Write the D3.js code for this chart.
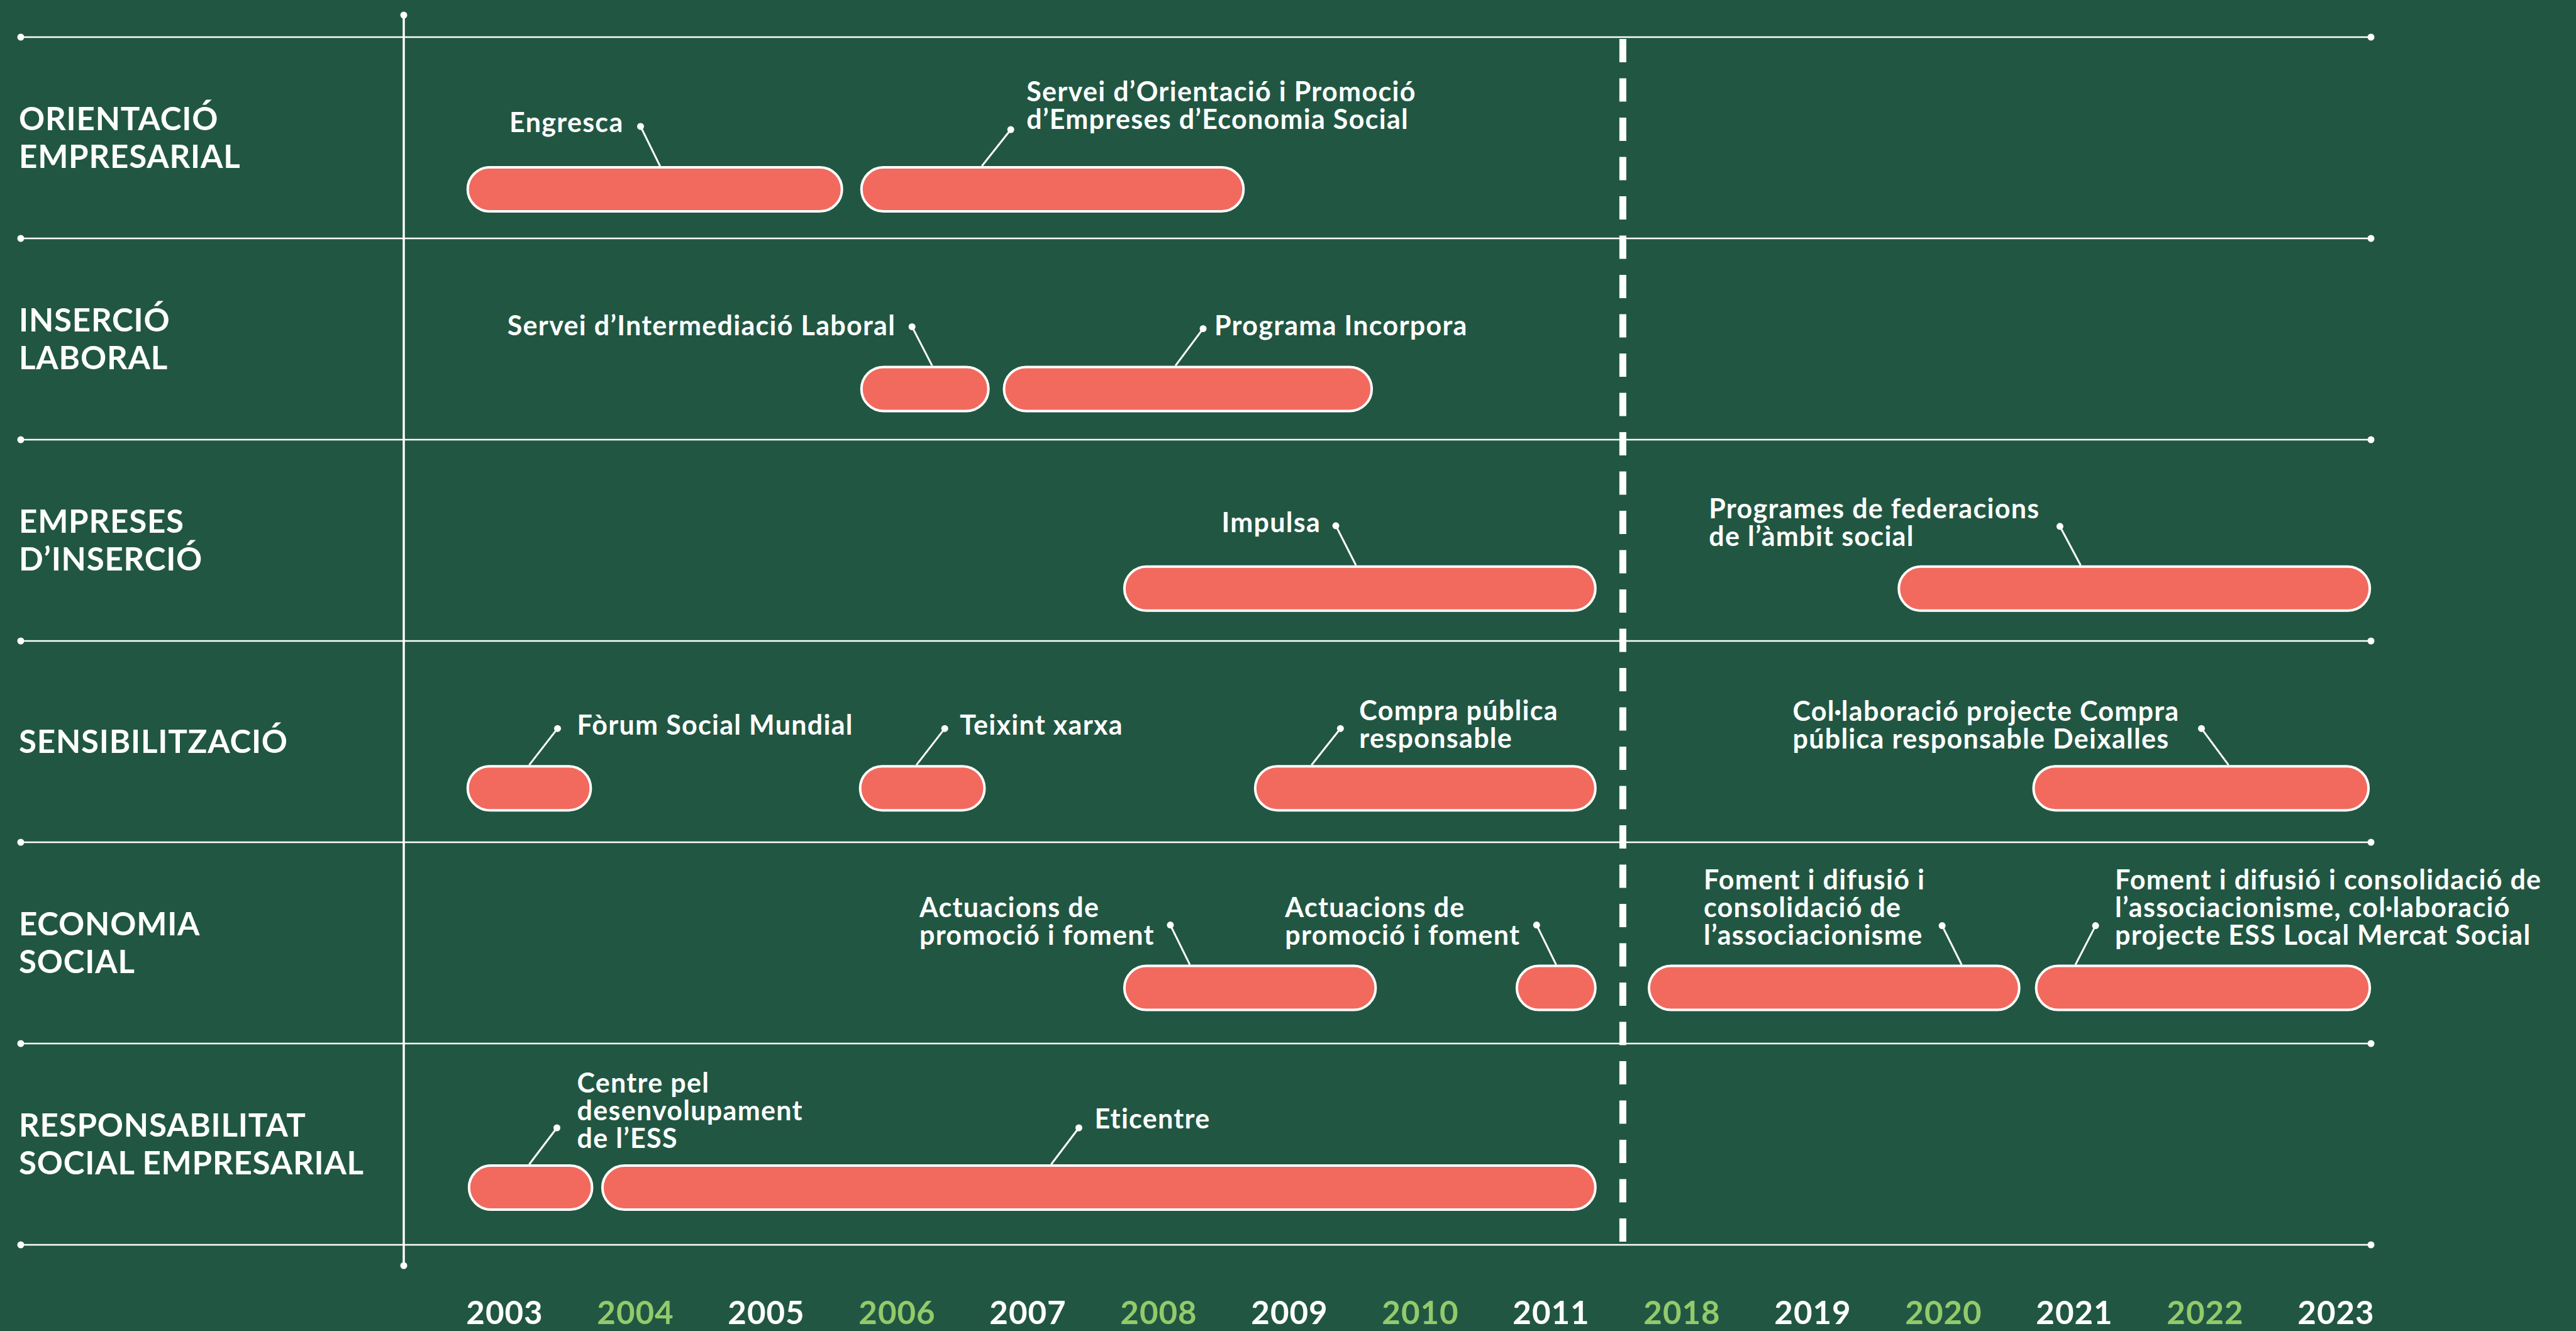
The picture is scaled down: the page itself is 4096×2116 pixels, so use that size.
<!DOCTYPE html>
<html>
<head>
<meta charset="utf-8">
<script src="https://cdn.jsdelivr.net/npm/d3@7"></script>
<style>
  body { margin: 0; background: #215742; }
  svg { display: block; }
</style>
</head>
<body>
<div id="chart"></div>
<script>
// Timeline slots (the axis jumps from 2011 to 2018)
var years = ['2003', '2004', '2005', '2006', '2007', '2008', '2009', '2010', '2011',
  '2018', '2019', '2020', '2021', '2022', '2023']

// Row labels
var areas = [
  ['ORIENTACIÓ', 'EMPRESARIAL'],
  ['INSERCIÓ', 'LABORAL'],
  ['EMPRESES', 'D’INSERCIÓ'],
  ['SENSIBILITZACIÓ'],
  ['ECONOMIA', 'SOCIAL'],
  ['RESPONSABILITAT', 'SOCIAL EMPRESARIAL']
]

// Programmes: row, label lines, start / end measured in year slots
var programmeArea = [0, 0, 1, 1, 2, 2, 3, 3, 3, 3, 4, 4, 4, 4, 5, 5]
var programmeStart = [-0.29, 2.72, 2.72, 3.81, 4.73, 10.65, -0.29, 2.71, 5.73, 11.68,
  4.73, 7.73, 8.74, 11.70, -0.28, 0.74]
var programmeEnd = [2.59, 5.66, 3.71, 6.64, 8.35, 14.27, 0.67, 3.68, 8.35, 14.26,
  6.67, 8.35, 11.59, 14.27, 0.68, 8.35]
var programmeLabel = [
  ['Engresca'],
  ['Servei d’Orientació i Promoció', 'd’Empreses d’Economia Social'],
  ['Servei d’Intermediació Laboral'],
  ['Programa Incorpora'],
  ['Impulsa'],
  ['Programes de federacions', 'de l’àmbit social'],
  ['Fòrum Social Mundial'],
  ['Teixint xarxa'],
  ['Compra pública', 'responsable'],
  ['Col·laboració projecte Compra', 'pública responsable Deixalles'],
  ['Actuacions de', 'promoció i foment'],
  ['Actuacions de', 'promoció i foment'],
  ['Foment i difusió i', 'consolidació de', 'l’associacionisme'],
  ['Foment i difusió i consolidació de', 'l’associacionisme, col·laboració', 'projecte ESS Local Mercat Social'],
  ['Centre pel', 'desenvolupament', 'de l’ESS'],
  ['Eticentre']
]

// Callout layout: where the leader leaves the bar (slot units), dot offset, text side
var callouts = [
  { at: 1.19, dx: -31, dy: -63, side: 'L', gap: 27, by: 9 },
  { at: 3.65, dx: 46, dy: -58, side: 'R', gap: 25, by: -45 },
  { at: 3.27, dx: -32, dy: -62, side: 'L', gap: 26, by: 14 },
  { at: 5.13, dx: 44, dy: -59, side: 'R', gap: 18, by: 11 },
  { at: 6.51, dx: -32, dy: -63, side: 'L', gap: 24, by: 10 },
  { at: 12.05, dx: -33, dy: -62, side: 'L', gap: 32, by: -13 },
  { at: 0.19, dx: 45, dy: -58, side: 'R', gap: 31, by: 10 },
  { at: 3.15, dx: 45, dy: -58, side: 'R', gap: 24, by: 10 },
  { at: 6.17, dx: 46, dy: -58, side: 'R', gap: 30, by: -13 },
  { at: 13.18, dx: -43, dy: -58, side: 'L', gap: 35, by: -12 },
  { at: 5.24, dx: -31, dy: -63, side: 'L', gap: 25, by: -13 },
  { at: 8.04, dx: -31, dy: -63, side: 'L', gap: 26, by: -13 },
  { at: 11.14, dx: -31, dy: -62, side: 'L', gap: 27, by: -58 },
  { at: 12.01, dx: 32, dy: -62, side: 'R', gap: 31, by: -58 },
  { at: 0.19, dx: 44, dy: -58, side: 'R', gap: 32, by: -56 },
  { at: 4.18, dx: 44, dy: -58, side: 'R', gap: 25, by: 1 }
]

var width = 4096
var height = 2116
var bg = '#215742'
var salmon = '#F26A5E'
var lightGreen = '#93CA6B'
var font = 'Lato, "Open Sans", sans-serif'

var svg = d3
  .select('#chart')
  .append('svg')
  .attr('width', width)
  .attr('height', height)

svg
  .append('rect')
  .attr('width', width)
  .attr('height', height)
  .attr('fill', bg)

// Scales
var xPositionScale = d3
  .scaleLinear()
  .domain([0, years.length - 1])
  .range([802, 3714])

var rowLineScale = d3
  .scaleLinear()
  .domain([0, areas.length])
  .range([59, 1979])

var barYScale = d3
  .scaleLinear()
  .domain([0, areas.length - 1])
  .range([301, 1888])

var barHeight = 70
var lineLeft = 33
var lineRight = 3770
var dotR = 5.5

// Horizontal row rules with end dots
d3.range(areas.length + 1).forEach(function(i) {
  var y = rowLineScale(i)
  svg
    .append('line')
    .attr('x1', lineLeft)
    .attr('x2', lineRight)
    .attr('y1', y)
    .attr('y2', y)
    .attr('stroke', 'white')
    .attr('stroke-width', 2.5)
  svg.append('circle').attr('cx', lineLeft).attr('cy', y).attr('r', dotR).attr('fill', 'white')
  svg.append('circle').attr('cx', lineRight).attr('cy', y).attr('r', dotR).attr('fill', 'white')
})

// Vertical separator between labels and timeline
var sepX = 642
svg
  .append('line')
  .attr('x1', sepX)
  .attr('x2', sepX)
  .attr('y1', 24)
  .attr('y2', 2012)
  .attr('stroke', 'white')
  .attr('stroke-width', 3.5)
svg.append('circle').attr('cx', sepX).attr('cy', 24).attr('r', dotR).attr('fill', 'white')
svg.append('circle').attr('cx', sepX).attr('cy', 2012).attr('r', dotR).attr('fill', 'white')

// Dashed break between 2011 and 2018
var breakX = xPositionScale(8.55)
svg
  .append('line')
  .attr('x1', breakX)
  .attr('x2', breakX)
  .attr('y1', 62)
  .attr('y2', 1980)
  .attr('stroke', 'white')
  .attr('stroke-width', 11)
  .attr('stroke-dasharray', '37 25.5')

// Row labels
areas.forEach(function(lines, i) {
  var mid = (rowLineScale(i) + rowLineScale(i + 1)) / 2
  var first = mid + 18 - ((lines.length - 1) * 60) / 2
  var t = svg
    .append('text')
    .attr('x', 30)
    .attr('y', first)
    .attr('fill', 'white')
    .attr('font-family', font)
    .attr('font-weight', 700)
    .attr('font-size', 51)
    .attr('letter-spacing', 0.8)
  lines.forEach(function(line, j) {
    t.append('tspan').attr('x', 30).attr('y', first + j * 60).text(line)
  })
})

// Bars
programmeArea.forEach(function(area, i) {
  var x0 = xPositionScale(programmeStart[i])
  var x1 = xPositionScale(programmeEnd[i])
  svg
    .append('rect')
    .attr('x', x0 + 2)
    .attr('y', barYScale(area) - barHeight / 2)
    .attr('width', x1 - x0 - 4)
    .attr('height', barHeight)
    .attr('rx', barHeight / 2)
    .attr('fill', salmon)
    .attr('stroke', 'white')
    .attr('stroke-width', 4)
})

// Callouts
callouts.forEach(function(c, i) {
  var ax = xPositionScale(c.at)
  var ay = barYScale(programmeArea[i]) - barHeight / 2 - 2
  var px = ax + c.dx
  var py = ay + c.dy

  svg
    .append('line')
    .attr('x1', ax)
    .attr('y1', ay)
    .attr('x2', px)
    .attr('y2', py)
    .attr('stroke', 'white')
    .attr('stroke-width', 3)
  svg.append('circle').attr('cx', px).attr('cy', py).attr('r', dotR).attr('fill', 'white')

  var t = svg
    .append('text')
    .attr('fill', 'white')
    .attr('font-family', font)
    .attr('font-weight', 700)
    .attr('font-size', 43)
    .attr('letter-spacing', 1.3)
  var spans = programmeLabel[i].map(function(line, j) {
    return t.append('tspan').attr('y', py + c.by + j * 44).text(line)
  })
  var w = d3.max(spans, function(s) { return s.node().getComputedTextLength() })
  var left = c.side === 'R' ? px + c.gap : px - c.gap - w
  spans.forEach(function(s) { s.attr('x', left) })
})

// Year axis
var xAxis = d3
  .axisBottom(xPositionScale)
  .tickValues(d3.range(years.length))
  .tickFormat(function(i) { return years[i] })
  .tickSize(0)

var axisG = svg
  .append('g')
  .attr('class', 'axis x-axis')
  .attr('transform', 'translate(0,2105)')
  .call(xAxis)

axisG.select('.domain').remove()
axisG
  .selectAll('text')
  .attr('y', 0)
  .attr('dy', 0)
  .attr('font-family', font)
  .attr('font-weight', 700)
  .attr('font-size', 51)
  .attr('letter-spacing', 1)
  .attr('fill', function(i) { return i % 2 === 0 ? 'white' : lightGreen })
</script>
</body>
</html>
